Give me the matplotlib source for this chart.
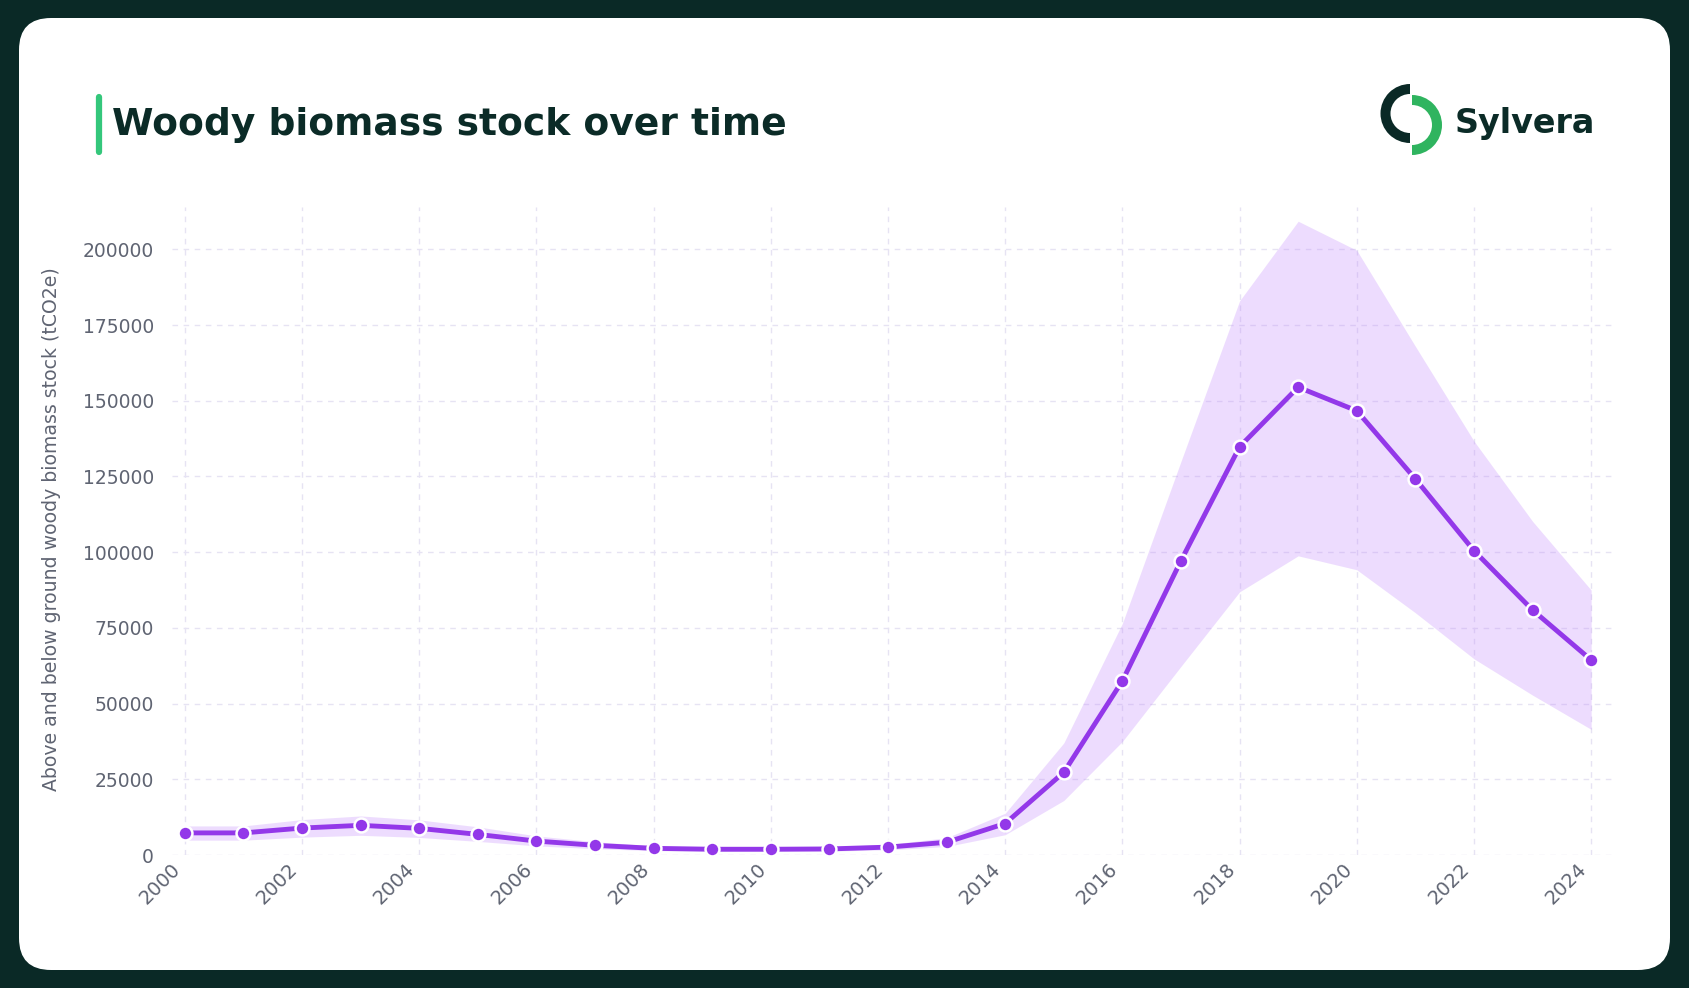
import matplotlib
matplotlib.use("Agg")
import matplotlib.pyplot as plt
from matplotlib.patches import FancyBboxPatch, Wedge
from matplotlib.lines import Line2D
from matplotlib.transforms import IdentityTransform, ScaledTranslation

years = list(range(2000, 2025))
biomass_mean = [7300, 7300, 8900, 9800, 8800, 6800, 4600, 3200, 2200, 1900,
                1900, 2000, 2600, 4200, 10400, 27300, 57500, 97200, 134800,
                154500, 146700, 124200, 100500, 80900, 64400]
biomass_upper = [9600, 9600, 11700, 12900, 11600, 9300, 6300, 4400, 3000, 2600,
                 2600, 2700, 3500, 5700, 13800, 37000, 76500, 130000, 183000,
                 209300, 199700, 168000, 136700, 110200, 87500]
biomass_lower = [4900, 4900, 5900, 6500, 5800, 4500, 3000, 2100, 1450, 1250,
                 1250, 1300, 1700, 2800, 6700, 18000, 37500, 62300, 86900,
                 98800, 94200, 80000, 64800, 52800, 41500]
x_ticks = list(range(2000, 2025, 2))
y_ticks = list(range(0, 200001, 25000))

title = "Woody biomass stock over time"
y_label = "Above and below ground woody biomass stock (tCO2e)"
brand = "Sylvera"

DARK = "#0a2926"
PURPLE = "#9338e9"
GREY = "#5f6472"
W, H = 1690, 988


def main():
    fig = plt.figure(figsize=(W / 100, H / 100), dpi=100)
    fig.patch.set_facecolor(DARK)
    px = IdentityTransform()

    # white card
    card = FancyBboxPatch((19, 18), 1651, 952,
                          boxstyle="round,pad=0,rounding_size=32",
                          facecolor="white", edgecolor="none",
                          transform=px, zorder=-1)
    fig.add_artist(card)

    # header: accent bar + title
    fig.add_artist(Line2D([99, 99], [H - 97, H - 152], lw=4.5, color="#34c77b",
                          solid_capstyle="round", transform=px))
    fig.text(112 / W, 1 - 135 / H, title, fontsize=27.1, fontweight="bold",
             color="#0b2b27", va="baseline", ha="left")

    # logo
    fig.add_artist(Wedge((1410, H - 113.5), 29.5, 90, 270, width=10,
                         facecolor=DARK, edgecolor="none", transform=px))
    fig.add_artist(Wedge((1412, H - 125), 30, -90, 90, width=10,
                         facecolor="#2fb45f", edgecolor="none", transform=px))
    fig.text(1455 / W, 1 - 132.7 / H, brand, fontsize=24, fontweight="bold",
             color="#0b2b27", va="baseline", ha="left")

    # chart
    ax = fig.add_axes([172 / W, 1 - 855 / H, (1614 - 172) / W, (855 - 207) / H])
    ax.set_facecolor("none")
    ax.fill_between(years, biomass_lower, biomass_upper, color="#c084fc",
                    alpha=0.28, lw=0, zorder=2)
    ax.plot(years, biomass_mean, color=PURPLE, lw=3.5, marker="o",
            markersize=10, markerfacecolor=PURPLE, markeredgecolor="white",
            markeredgewidth=1.8, zorder=3, clip_on=False)

    ax.set_xlim(1999.78, 2024.39)
    ax.set_ylim(0, 214000)
    ax.set_xticks(x_ticks)
    ax.set_yticks(y_ticks)
    ax.set_yticklabels([str(v) for v in y_ticks])
    ax.set_xticklabels([str(v) for v in x_ticks], rotation=45, ha="right",
                       rotation_mode="anchor")
    ax.tick_params(axis="both", length=0, labelcolor=GREY)
    ax.tick_params(axis="y", pad=13, labelsize=13.5)
    ax.tick_params(axis="x", pad=3, labelsize=14)
    shift = ScaledTranslation(-14 / 100, 0, fig.dpi_scale_trans)
    for lbl in ax.get_xticklabels():
        lbl.set_transform(lbl.get_transform() + shift)
    for s in ax.spines.values():
        s.set_visible(False)
    ax.grid(True, color="#e6e3f3", lw=1, linestyle=(0, (4, 4)), zorder=1)
    ax.set_axisbelow(True)

    fig.text(52 / W, 1 - 529 / H, y_label, rotation=90, fontsize=13.6,
             color=GREY, ha="center", va="center")

    fig.savefig("out.png", dpi=100, facecolor=DARK)


if __name__ == "__main__":
    main()
